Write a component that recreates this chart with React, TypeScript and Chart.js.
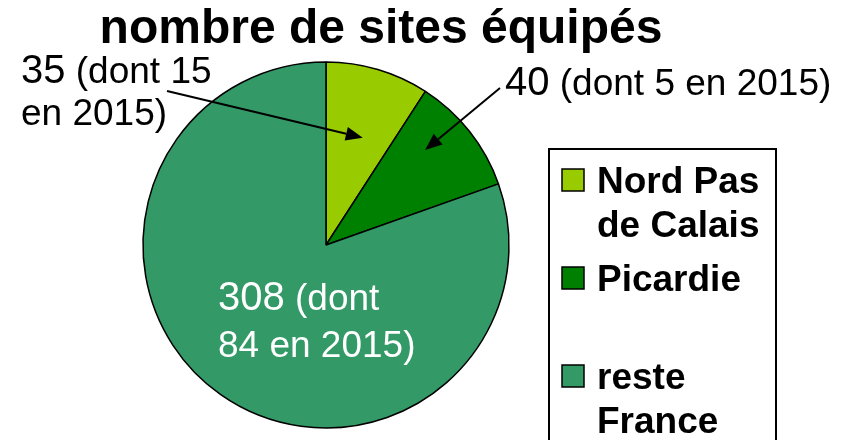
import { useEffect, useRef } from "react";
import { Chart, registerables } from "chart.js";

Chart.register(...registerables);

const categories = ["Nord Pas de Calais", "Picardie", "reste France"];
const siteCounts = [35, 40, 308];
const sitesIn2015 = [15, 5, 84];
const sliceColors = ["#99CC00", "#008000", "#339966"];
const chartTitle = "nombre de sites équipés";

const FONT = '"Liberation Sans", Arial, Helvetica, sans-serif';

// Layout of the value annotations (positions only, no data)
const annotationLayout = [
  { x: 21, y: 83, lineHeight: 42, breakAfter: 3, color: "#000", arrowFrom: [167, 91], tipAngleFrac: 0.575, tipRadiusFrac: 0.62 },
  { x: 505, y: 95, lineHeight: 42, breakAfter: 99, color: "#000", arrowFrom: [500, 88], tipAngleFrac: 0.354, tipRadiusFrac: 0.75 },
  { x: 218, y: 310, lineHeight: 47, breakAfter: 2, color: "#fff", arrowFrom: null, tipAngleFrac: 0, tipRadiusFrac: 0 },
];

const legendLayout = { left: 549, top: 149, right: 776, bottom: 460, itemTop: 169, itemStep: 98, box: 22, boxX: 562, textX: 597, firstBaseline: 24, lineHeight: 44, maxWidth: 172 };

function wrapWords(ctx: CanvasRenderingContext2D, text: string, maxWidth: number) {
  const words = text.split(" ");
  const lines: string[] = [];
  let cur = "";
  for (const w of words) {
    const test = cur ? cur + " " + w : w;
    if (cur && ctx.measureText(test).width > maxWidth) {
      lines.push(cur);
      cur = w;
    } else cur = test;
  }
  if (cur) lines.push(cur);
  return lines;
}

const overlayPlugin = {
  id: "overlay",
  afterDraw(chart: any) {
    const ctx: CanvasRenderingContext2D = chart.ctx;
    const meta = chart.getDatasetMeta(0);
    ctx.save();
    ctx.textBaseline = "alphabetic";

    // Title
    ctx.fillStyle = "#000";
    ctx.font = `bold 48px ${FONT}`;
    ctx.textAlign = "center";
    ctx.fillText(chartTitle, 381, 43);
    ctx.textAlign = "left";

    // Annotations
    siteCounts.forEach((count, i) => {
      const lay = annotationLayout[i];
      const words = [String(count), "(dont", String(sitesIn2015[i]), "en", "2015)"];
      const lines = [words.slice(0, lay.breakAfter), words.slice(lay.breakAfter)].filter((l) => l.length);
      ctx.fillStyle = lay.color;
      lines.forEach((lw, li) => {
        let x = lay.x;
        const y = lay.y + li * lay.lineHeight;
        if (li === 0) {
          ctx.font = `40px ${FONT}`;
          ctx.fillText(lw[0], x, y);
          x += ctx.measureText(lw[0]).width;
          ctx.font = `37px ${FONT}`;
          const rest = " " + lw.slice(1).join(" ");
          if (lw.length > 1) ctx.fillText(rest, x, y);
        } else {
          ctx.font = `37px ${FONT}`;
          ctx.fillText(lw.join(" "), x, y);
        }
      });

      if (lay.arrowFrom) {
        const arc = meta.data[i].getProps(["x", "y", "startAngle", "endAngle", "outerRadius"], true);
        const a = arc.startAngle + lay.tipAngleFrac * (arc.endAngle - arc.startAngle);
        const r = arc.outerRadius * lay.tipRadiusFrac;
        const tx = arc.x + Math.cos(a) * r;
        const ty = arc.y + Math.sin(a) * r;
        const [fx, fy] = lay.arrowFrom;
        const ang = Math.atan2(ty - fy, tx - fx);
        const headLen = 17;
        const headHalf = 7;
        const bx = tx - Math.cos(ang) * headLen;
        const by = ty - Math.sin(ang) * headLen;
        ctx.strokeStyle = "#000";
        ctx.lineWidth = 2;
        ctx.beginPath();
        ctx.moveTo(fx, fy);
        ctx.lineTo(bx, by);
        ctx.stroke();
        ctx.fillStyle = "#000";
        ctx.beginPath();
        ctx.moveTo(tx, ty);
        ctx.lineTo(bx + Math.sin(ang) * headHalf, by - Math.cos(ang) * headHalf);
        ctx.lineTo(bx - Math.sin(ang) * headHalf, by + Math.cos(ang) * headHalf);
        ctx.closePath();
        ctx.fill();
      }
    });

    // Legend
    const L = legendLayout;
    ctx.strokeStyle = "#000";
    ctx.lineWidth = 2;
    ctx.strokeRect(L.left, L.top, L.right - L.left, L.bottom - L.top);
    ctx.font = `bold 37px ${FONT}`;
    categories.forEach((cat, i) => {
      const top = L.itemTop + i * L.itemStep;
      ctx.fillStyle = sliceColors[i];
      ctx.fillRect(L.boxX, top, L.box, L.box);
      ctx.lineWidth = 1.5;
      ctx.strokeStyle = "#000";
      ctx.strokeRect(L.boxX, top, L.box, L.box);
      ctx.fillStyle = "#000";
      const lines = wrapWords(ctx, cat, L.maxWidth);
      lines.forEach((ln, li) => {
        ctx.fillText(ln, L.textX, top + L.firstBaseline + li * L.lineHeight);
      });
    });

    ctx.restore();
  },
};

export default function App() {
  const ref = useRef<HTMLCanvasElement | null>(null);
  useEffect(() => {
    if (!ref.current) return;
    const chart = new Chart(ref.current, {
      type: "pie",
      data: {
        labels: categories,
        datasets: [
          {
            data: siteCounts,
            backgroundColor: sliceColors,
            borderColor: "#000",
            borderWidth: 1.5,
          },
        ],
      },
      options: {
        animation: false,
        responsive: false,
        devicePixelRatio: 1,
        radius: 183,
        layout: { padding: { left: 143, right: 343, top: 62, bottom: 12 } },
        plugins: {
          legend: { display: false },
          title: { display: false },
          tooltip: { enabled: false },
        },
      } as any,
      plugins: [overlayPlugin],
    });
    return () => chart.destroy();
  }, []);
  return (
    <div style={{ position: "absolute", left: 0, top: 0, width: 852, height: 440, background: "#fff" }}>
      <canvas ref={ref} width={852} height={440} style={{ display: "block" }} />
    </div>
  );
}
